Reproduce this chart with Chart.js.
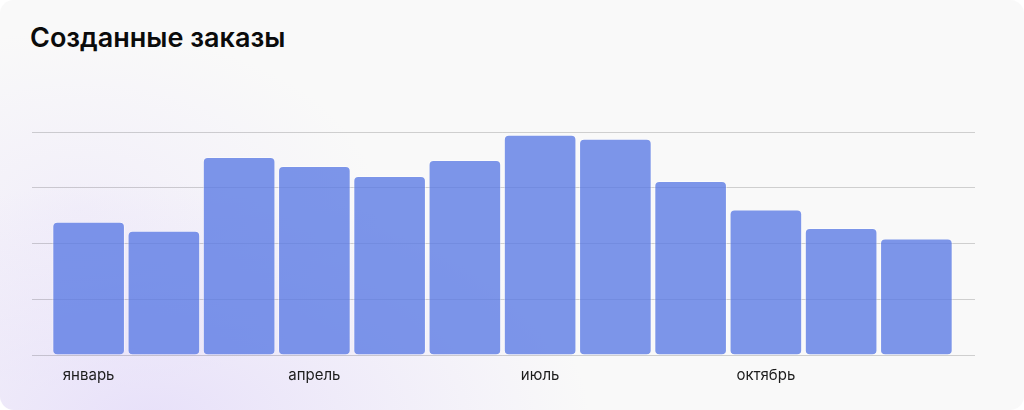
<!DOCTYPE html>
<html lang="ru">
<head>
<meta charset="utf-8">
<script src="https://cdn.jsdelivr.net/npm/chart.js@4/dist/chart.umd.min.js"></script>
<style>
  html, body { margin: 0; padding: 0; background: #ffffff; }
  .card {
    position: relative;
    width: 1024px;
    height: 410px;
    border-radius: 14px;
    overflow: hidden;
    background:
      radial-gradient(ellipse 440px 240px at 150px 420px, rgba(214, 200, 250, 0.5), rgba(214, 200, 250, 0) 100%),
      radial-gradient(ellipse 300px 180px at 80px 210px, rgba(225, 215, 250, 0.3), rgba(225, 215, 250, 0) 100%),
      #f9f9f9;
    font-family: Inter, "Noto Sans", sans-serif;
  }
  .card h1 {
    position: absolute;
    left: 30px;
    top: 21px;
    margin: 0;
    font-size: 27px;
    font-weight: 600;
    color: #0b0b0b;
  }
  #ordersChart { position: absolute; left: 0; top: 0; }
</style>
</head>
<body>
<div class="card">
  <h1>Созданные заказы</h1>
  <canvas id="ordersChart" width="1024" height="410"></canvas>
</div>
<script>
// --- DATA ---
const months = ['январь', 'февраль', 'март', 'апрель', 'май', 'июнь',
                'июль', 'август', 'сентябрь', 'октябрь', 'ноябрь', 'декабрь'];
const orders = [239, 223, 355, 339, 321, 350, 395, 388, 312, 261, 228, 209];
const shownMonths = ['январь', 'апрель', 'июль', 'октябрь'];
const yMax = 400;
const yStep = 100;

// --- STYLE ---
const barFill = 'rgba(88, 120, 228, 0.78)';
const barEdge = 'rgba(255, 255, 255, 0.45)';
const gridGray = 'rgba(0, 0, 0, 0.17)';

Chart.defaults.font.family = 'Inter, "Noto Sans", sans-serif';

new Chart(document.getElementById('ordersChart'), {
    type: 'bar',
    data: {
        labels: months,
        datasets: [{
            label: 'Созданные заказы',
            data: orders,
            backgroundColor: barFill,
            borderColor: barEdge,
            borderWidth: { top: 1, left: 1, right: 1, bottom: 0 },
            borderSkipped: false,
            borderRadius: 5,
            barPercentage: 0.965,
            categoryPercentage: 1
        }]
    },
    options: {
        responsive: false,
        animation: false,
        layout: { padding: { left: 32, right: 49, top: 132, bottom: 15 } },
        plugins: {
            legend: { display: false },
            tooltip: { enabled: false }
        },
        scales: {
            x: {
                offset: true,
                grid: { display: false, drawTicks: false },
                border: { display: false },
                ticks: {
                    autoSkip: false,
                    maxRotation: 0,
                    padding: 11,
                    color: '#1c1c1c',
                    font: { size: 15 },
                    callback: function(value, index) {
                        const name = months[index];
                        return shownMonths.includes(name) ? name : '';
                    }
                }
            },
            y: {
                position: 'left',
                min: 0,
                max: yMax,
                ticks: { stepSize: yStep, display: false },
                border: { display: false },
                grid: { color: gridGray, tickLength: 19, lineWidth: 1 }
            },
            yRight: {
                position: 'right',
                min: 0,
                max: yMax,
                ticks: { stepSize: yStep, display: false },
                border: { display: false },
                grid: { color: gridGray, tickLength: 21, lineWidth: 1, drawOnChartArea: false }
            }
        }
    }
});
</script>
</body>
</html>
